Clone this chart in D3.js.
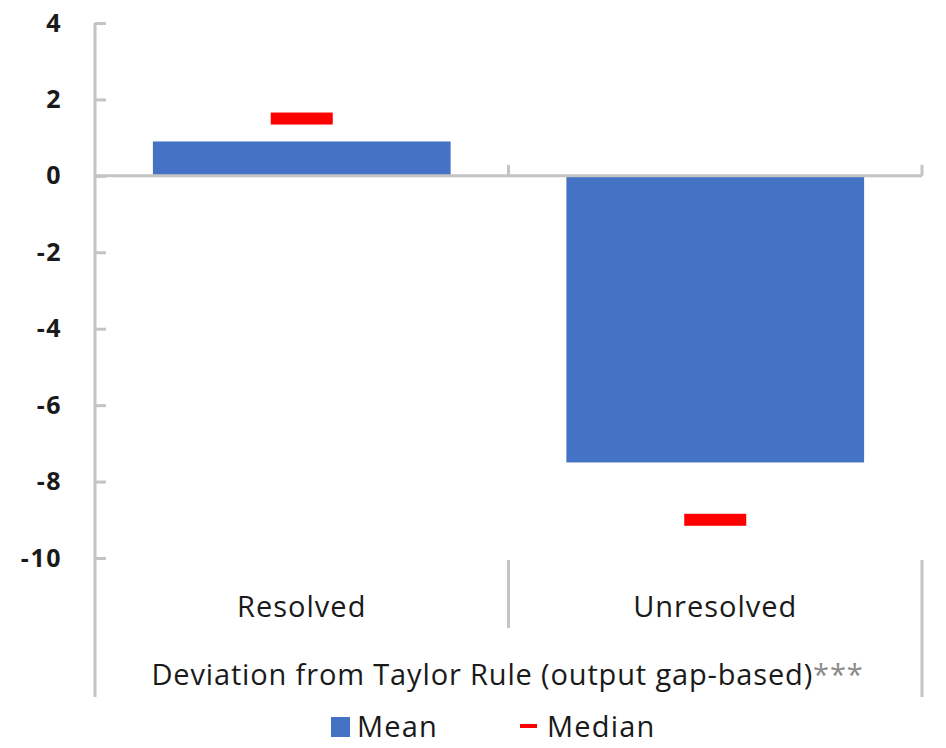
<!DOCTYPE html>
<html>
<head>
<meta charset="utf-8">
<script src="https://cdn.jsdelivr.net/npm/d3@7"></script>
<style>
  html, body { margin: 0; padding: 0; background: #fff; }
  svg { display: block; }
  text { font-family: "Open Sans", "Noto Sans", sans-serif; fill: #1a1a1a; }
</style>
</head>
<body>
<script>
const categories = ["Resolved", "Unresolved"];
const meanValues = [0.9, -7.5];
const medianValues = [1.5, -9.0];
const yTicks = [-10, -8, -6, -4, -2, 0, 2, 4];
const groupLabel = "Deviation from Taylor Rule (output gap-based)";
const groupLabelNote = "***";
const legendLabels = ["Mean", "Median"];

const W = 946, H = 748;
const svg = d3.select("body").append("svg").attr("width", W).attr("height", H);

const axisColor = "#c4c4c4";
const x = d3.scaleBand().domain(categories).range([95, 922]).paddingInner(0.28).paddingOuter(0.14);
const y = d3.scaleLinear().domain([-10, 4]).range([558, 23]);
const bottomY = 697;

// bars
svg.selectAll("rect.bar").data(categories).enter().append("rect")
  .attr("class", "bar")
  .attr("x", d => x(d))
  .attr("width", x.bandwidth())
  .attr("y", (d, i) => y(Math.max(0, meanValues[i])))
  .attr("height", (d, i) => Math.abs(y(meanValues[i]) - y(0)))
  .attr("fill", "#4472C4");

// medians
const medW = 62, medH = 12;
svg.selectAll("rect.med").data(categories).enter().append("rect")
  .attr("class", "med")
  .attr("x", d => x(d) + x.bandwidth() / 2 - medW / 2)
  .attr("width", medW)
  .attr("y", (d, i) => y(medianValues[i]) - medH / 2)
  .attr("height", medH)
  .attr("fill", "#FF0000");

// y axis
const yAxis = d3.axisLeft(y).tickValues(yTicks).tickSizeInner(-11).tickSizeOuter(0).tickPadding(33)
  .tickFormat(d => d < 0 ? "-" + Math.abs(d) : String(d));
const gy = svg.append("g").attr("transform", "translate(95,0)").call(yAxis);
gy.select(".domain").remove();
gy.selectAll(".tick line").attr("stroke", axisColor).attr("stroke-width", 3);
gy.selectAll(".tick text").attr("font-size", 25).attr("font-weight", "bold")
  .style("font-family", "'Open Sans', sans-serif").attr("fill", "#111")
  .attr("letter-spacing", 1.5);

// left axis line full height
svg.append("line").attr("x1", 95).attr("x2", 95).attr("y1", y(4)).attr("y2", bottomY)
  .attr("stroke", axisColor).attr("stroke-width", 3);

// zero line
const x0 = x.range()[0], x1 = x.range()[1];
svg.append("line").attr("x1", x0).attr("x2", x1).attr("y1", y(0)).attr("y2", y(0))
  .attr("stroke", axisColor).attr("stroke-width", 3);

// category boundary ticks on zero line
const bounds = categories.map(d => x(d) - x.step() * x.paddingInner() / 2 + x.step());
svg.selectAll("line.ctick").data(bounds).enter().append("line")
  .attr("x1", d => d).attr("x2", d => d).attr("y1", y(0) - 11).attr("y2", y(0))
  .attr("stroke", axisColor).attr("stroke-width", 3);

// separators below
svg.selectAll("line.sep").data(bounds).enter().append("line")
  .attr("x1", d => d).attr("x2", d => d)
  .attr("y1", 560).attr("y2", (d, i) => i === bounds.length - 1 ? bottomY : 628)
  .attr("stroke", axisColor).attr("stroke-width", 3);

// category labels
svg.selectAll("text.cat").data(categories).enter().append("text")
  .attr("class", "cat")
  .attr("x", d => x(d) + x.bandwidth() / 2)
  .attr("y", 617)
  .attr("text-anchor", "middle")
  .attr("font-size", 29)
  .attr("letter-spacing", 1)
  .text(d => d);

// group label
const gl = svg.append("text")
  .attr("x", (x0 + x1) / 2 - 1)
  .attr("y", 685)
  .attr("text-anchor", "middle")
  .attr("font-size", 29)
  .attr("letter-spacing", 0.85);
gl.append("tspan").text(groupLabel);
gl.append("tspan").attr("fill", "#8a8a8a").text(groupLabelNote);

// legend
const lg = svg.append("g");
lg.append("rect").attr("x", 331).attr("y", 717).attr("width", 19).attr("height", 20).attr("fill", "#4472C4");
lg.append("text").attr("x", 357).attr("y", 737).attr("font-size", 29).attr("letter-spacing", 1.2).text(legendLabels[0]);
lg.append("rect").attr("x", 520).attr("y", 724).attr("width", 17).attr("height", 4).attr("fill", "#FF0000");
lg.append("text").attr("x", 547).attr("y", 737).attr("font-size", 29).attr("letter-spacing", 1.2).text(legendLabels[1]);
</script>
</body>
</html>
